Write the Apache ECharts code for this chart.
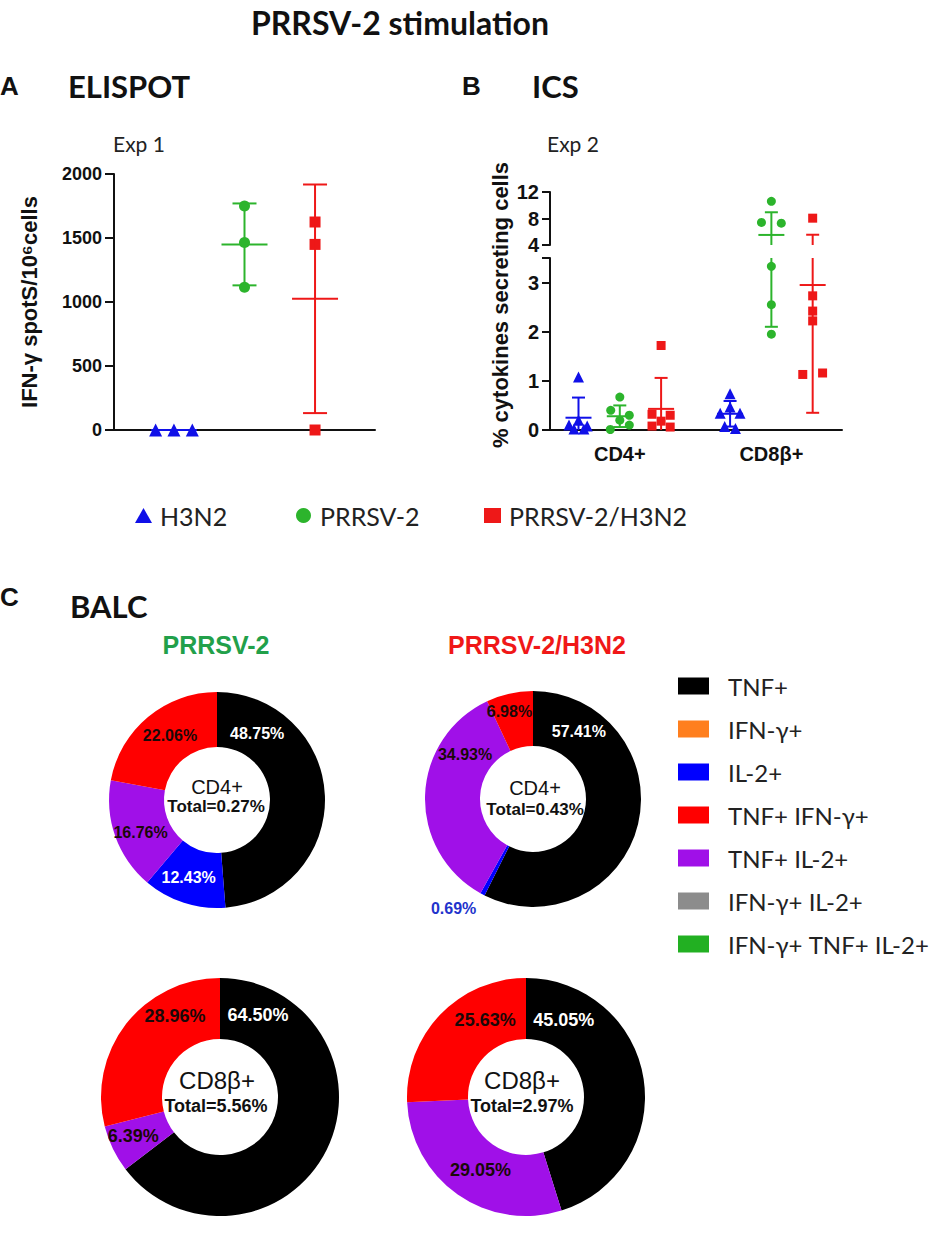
<!DOCTYPE html>
<html>
<head>
<meta charset="utf-8">
<script src="https://cdn.jsdelivr.net/npm/echarts@6.0.0/dist/echarts.min.js"></script>
<style>html,body{margin:0;padding:0;background:#fff;}</style>
</head>
<body>
<div id="main" style="width:945px;height:1239px;"></div>
<script type="text/javascript">
// ---- values ----
var groups = ['H3N2', 'PRRSV-2', 'PRRSV-2/H3N2'];

// A: ELISPOT, IFN-γ spots / 10^6 cells, Exp 1
var spotsH3N2 = [0, 0, 0];
var spotsPrrsv = [1750, 1465, 1115];
var spotsCoinf = [1625, 1450, 0];
var spotsMean = [0, 1450, 1025];
var spotsSd = [0, 320, 893];

// B: ICS, % cytokine secreting cells, Exp 2 (per subset)
var subsets = ['CD4+', 'CD8β+'];
var icsH3N2 = [[1.08, 0.20, 0.10, 0.08, 0.02, 0.02], [0.74, 0.47, 0.34, 0.34, 0.07, 0.03]];
var icsPrrsv = [[0.67, 0.40, 0.30, 0.20, 0.10, 0.01], [10.6, 7.4, 7.3, 3.33, 2.55, 1.95]];
var icsCoinf = [[1.72, 0.32, 0.30, 0.18, 0.08, 0.06], [8.05, 2.73, 2.42, 2.22, 1.13, 1.16]];
var icsMean = [[0.25, 0.33], [0.28, 5.52], [0.43, 2.95]];
var icsSd = [[0.41, 0.26], [0.22, 3.42], [0.63, 2.60]];
var yTicksLow = [0, 1, 2, 3];
var yTicksHigh = [4, 8, 12];

// C: BALC cytokine profiles (% of responding cells)
var cytokines = ['TNF+', 'IFN-γ+', 'IL-2+', 'TNF+ IFN-γ+', 'TNF+ IL-2+', 'IFN-γ+ IL-2+', 'IFN-γ+ TNF+ IL-2+'];
var cd4Prrsv = [48.75, 0, 12.43, 22.06, 16.76, 0, 0];
var cd4Coinf = [57.41, 0, 0.69, 6.98, 34.93, 0, 0];
var cd8Prrsv = [64.50, 0, 0, 28.96, 6.39, 0, 0];
var cd8Coinf = [45.05, 0, 0, 25.63, 29.05, 0, 0];
var totals = ['0.27', '0.43', '5.56', '2.97'];

// ---- layout / style ----
var AX = '"Liberation Sans", Arial, sans-serif';
var CAL = 'Lato, "Open Sans", sans-serif';
var INK = '#111';
var colors = ['#1010e8', '#2cb42c', '#ee1818'];
var symbols = ['triangle', 'circle', 'rect'];
var pieColors = ['#000000', '#ff7f1e', '#0000ff', '#ff0000', '#a010e8', '#8c8c8c', '#22b022'];
var sliceOrder = [0, 1, 2, 4, 5, 6, 3]; // clockwise from 12 o'clock
var jitterA = [[-0.26, 0, 0.26], [0, 0, 0], [0, 0, 0]];
var jitterB = [
    [[0, 0, -0.23, 0.21, -0.11, 0.13], [0, 0, -0.24, 0.24, -0.13, 0.13]],
    [[0, -0.22, 0.23, 0, 0.23, -0.23], [0, -0.24, 0.24, 0, 0, 0]],
    [[0, -0.22, 0.22, 0, -0.22, 0.22], [0, 0, 0, 0, -0.24, 0.24]]
];
var centersB = [2, 5.67];
var BREAK_LOW = 3.5, BREAK_HIGH = 4;

var myChart = echarts.init(document.getElementById('main'), null, { renderer: 'svg' });

function errorBar(halfMean, halfCap, color, width) {
    return function (params, api) {
        var x = api.value(0), m = api.value(1), s = api.value(2);
        var top = api.coord([x, m + s]);
        var bot = api.coord([x, m - s]);
        var mid = api.coord([x, m]);
        function seg(x1, y1, x2, y2) {
            return { type: 'line', shape: { x1: x1, y1: y1, x2: x2, y2: y2 }, style: { stroke: color, lineWidth: width } };
        }
        return {
            type: 'group', children: [
                seg(top[0], top[1], bot[0], bot[1]),
                seg(top[0] - halfCap, top[1], top[0] + halfCap, top[1]),
                seg(bot[0] - halfCap, bot[1], bot[0] + halfCap, bot[1]),
                seg(mid[0] - halfMean, mid[1], mid[0] + halfMean, mid[1])
            ]
        };
    };
}

var series = [];

// panel A
[spotsH3N2, spotsPrrsv, spotsCoinf].forEach(function (vals, g) {
    series.push({
        name: groups[g], type: 'scatter', xAxisIndex: 0, yAxisIndex: 0, clip: false, z: 3,
        symbol: symbols[g], symbolSize: g === 0 ? 13 : 11,
        itemStyle: { color: colors[g], opacity: 1 },
        data: vals.map(function (v, k) { return [g + 1 + jitterA[g][k], v]; })
    });
    series.push({
        type: 'custom', xAxisIndex: 0, yAxisIndex: 0, z: 4,
        renderItem: errorBar(23, 12, colors[g], 2),
        data: [[g + 1, spotsMean[g], spotsSd[g]]]
    });
});

// panel B (broken axis: lower grid 0-3.5, upper grid 4-12)
[icsH3N2, icsPrrsv, icsCoinf].forEach(function (bySubset, g) {
    var low = [], high = [];
    bySubset.forEach(function (vals, s) {
        vals.forEach(function (v, k) {
            var pt = [centersB[s] + (g - 1) + jitterB[g][s][k], v];
            if (v <= BREAK_LOW) low.push(pt);
            if (v >= BREAK_HIGH) high.push(pt);
        });
    });
    var bars = subsets.map(function (n, s) { return [centersB[s] + (g - 1), icsMean[g][s], icsSd[g][s]]; });
    [[1, low], [2, high]].forEach(function (part) {
        series.push({
            name: groups[g], type: 'scatter', xAxisIndex: part[0], yAxisIndex: part[0], clip: false, z: 3,
            symbol: symbols[g], symbolSize: g === 0 ? 11 : 9,
            itemStyle: { color: colors[g], opacity: 1 },
            data: part[1]
        });
        series.push({
            type: 'custom', xAxisIndex: part[0], yAxisIndex: part[0], clip: true, z: 4,
            renderItem: errorBar(13, 6.5, colors[g], 2),
            data: bars
        });
    });
});

// panel C donuts
function donut(values, center, radius, spots, fontSize, labelColors) {
    var names = sliceOrder.map(function (i) { return cytokines[i]; });
    return {
        type: 'pie', center: center, radius: radius, startAngle: 90, clockwise: true,
        avoidLabelOverlap: false, silent: true, z: 2,
        label: {
            show: true, position: 'inside', fontFamily: AX, fontSize: fontSize, fontWeight: 'bold',
            formatter: function (p) { return p.value.toFixed(2) + '%'; }
        },
        labelLine: { show: false },
        labelLayout: function (p) {
            var sp = spots[names[p.dataIndex]];
            if (!sp) return;
            var a = sp[0] * Math.PI / 180;
            return { x: center[0] + sp[1] * Math.sin(a), y: center[1] - sp[1] * Math.cos(a), align: 'center', verticalAlign: 'middle' };
        },
        data: sliceOrder.map(function (i) {
            return {
                name: cytokines[i], value: values[i],
                itemStyle: { color: pieColors[i] },
                label: { show: values[i] > 0, color: labelColors[cytokines[i]] || '#1a0808' }
            };
        })
    };
}
var rTop = [53, 108], rBot = [58, 119];
var cTop = [[217, 800], [533, 799]], cBot = [[220, 1097], [526, 1097]];
series.push(donut(cd4Prrsv, cTop[0], rTop,
    { 'TNF+': [31, 78], 'TNF+ IFN-γ+': [324, 80], 'TNF+ IL-2+': [247, 83], 'IL-2+': [200, 83] }, 16,
    { 'TNF+': '#fff', 'IL-2+': '#fff' }));
series.push(donut(cd4Coinf, cTop[1], rTop,
    { 'TNF+': [34, 82], 'TNF+ IFN-γ+': [345, 91], 'TNF+ IL-2+': [303, 81], 'IL-2+': [216, 135] }, 16,
    { 'TNF+': '#fff', 'IL-2+': '#2233cc' }));
series.push(donut(cd8Prrsv, cBot[0], rBot,
    { 'TNF+': [25, 90], 'TNF+ IFN-γ+': [331, 93], 'TNF+ IL-2+': [246, 95] }, 18,
    { 'TNF+': '#fff' }));
series.push(donut(cd8Coinf, cBot[1], rBot,
    { 'TNF+': [26, 86], 'TNF+ IFN-γ+': [332, 87], 'TNF+ IL-2+': [212, 86] }, 18,
    { 'TNF+': '#fff' }));

var axisLineStyle = { color: INK, width: 2 };
var tickLabel = { color: INK, fontFamily: AX, fontWeight: 'bold' };

function txt(text, x, y, size, weight, family, color, align, extra) {
    var el = {
        type: 'text', x: x, y: y, z: 50, silent: true,
        style: {
            text: text, fontSize: size, fontWeight: weight, fontFamily: family, fill: color || INK,
            align: align || 'left', verticalAlign: 'middle', textAlign: align || 'left', textVerticalAlign: 'middle'
        }
    };
    if (extra) for (var k in extra) el[k] = extra[k];
    return el;
}

var graphics = [
    txt('PRRSV-2 stimulation', 400, 22, 32, 'bold', CAL, INK, 'center'),
    txt('A', 0, 86, 26, 'bold', AX),
    txt('ELISPOT', 68, 86, 31, 'bold', CAL),
    txt('B', 462, 86, 26, 'bold', AX),
    txt('ICS', 532, 86, 31, 'bold', CAL),
    txt('Exp 1', 113, 143, 21, 'normal', CAL, '#222'),
    txt('Exp 2', 547, 143, 21, 'normal', CAL, '#222'),
    txt('% cytokines secreting cells', 500, 305, 22, 'bold', AX, INK, 'center', { rotation: Math.PI / 2 }),
    txt('C', 0, 597, 26, 'bold', AX),
    txt('BALC', 70, 606, 31, 'bold', CAL),
    txt('PRRSV-2', 216, 645, 25, 'bold', AX, '#22a04a', 'center'),
    txt('PRRSV-2/H3N2', 537, 645, 25, 'bold', AX, '#f01818', 'center'),
    txt('CD4+', 217, 787, 20, 'normal', AX, INK, 'center'),
    txt('Total=' + totals[0] + '%', 216, 806, 17, 'bold', AX, INK, 'center'),
    txt('CD4+', 535, 788, 20, 'normal', AX, INK, 'center'),
    txt('Total=' + totals[1] + '%', 535, 809, 17, 'bold', AX, INK, 'center'),
    txt('CD8β+', 217, 1080, 24, 'normal', AX, INK, 'center'),
    txt('Total=' + totals[2] + '%', 216, 1106, 18, 'bold', AX, INK, 'center'),
    txt('CD8β+', 522, 1080, 24, 'normal', AX, INK, 'center'),
    txt('Total=' + totals[3] + '%', 522, 1106, 18, 'bold', AX, INK, 'center')
];

function groupLegend(g, left) {
    return {
        left: left, top: 503, padding: 0, itemWidth: 17, itemHeight: 15, selectedMode: false,
        data: [{ name: groups[g], icon: symbols[g] }],
        textStyle: { fontSize: 25, fontFamily: CAL, color: '#222', lineHeight: 24, padding: [0, 0, 0, 3] }
    };
}

option = {
    animation: false,
    backgroundColor: '#fff',
    grid: [
        { left: 114, top: 174, width: 261, height: 256 },
        { left: 550, top: 258, width: 292, height: 172 },
        { left: 550, top: 192, width: 292, height: 53 }
    ],
    xAxis: [
        {
            gridIndex: 0, type: 'value', min: 0.15, max: 3.85,
            axisLine: { show: true, lineStyle: axisLineStyle }, axisTick: { show: false },
            axisLabel: { show: false }, splitLine: { show: false }
        },
        {
            gridIndex: 1, type: 'value', min: 0.31, max: 7.38,
            axisLine: { show: true, lineStyle: axisLineStyle }, axisTick: { show: false },
            axisLabel: {
                show: true, customValues: centersB, margin: 14, fontSize: 20, color: INK, fontFamily: AX, fontWeight: 'bold',
                formatter: function (v) { return v < 4 ? subsets[0] : subsets[1]; }
            },
            splitLine: { show: false }
        },
        {
            gridIndex: 2, type: 'value', min: 0.31, max: 7.38, show: false
        }
    ],
    yAxis: [
        {
            gridIndex: 0, type: 'value', min: 0, max: 2000, interval: 500,
            axisLine: { show: true, lineStyle: axisLineStyle },
            axisTick: { show: true, length: 9, lineStyle: axisLineStyle },
            axisLabel: Object.assign({
                fontSize: 18, margin: 12,
                formatter: function (v) { return String(v); }
            }, tickLabel),
            splitLine: { show: false },
            name: 'IFN-γ spotS/10⁶cells', nameLocation: 'middle', nameGap: 74,
            nameTextStyle: { fontSize: 22, fontWeight: 'bold', fontFamily: AX, color: INK }
        },
        {
            gridIndex: 1, type: 'value', min: 0, max: BREAK_LOW, interval: 1,
            axisLine: { show: true, lineStyle: axisLineStyle },
            axisTick: { show: true, length: 8, lineStyle: axisLineStyle },
            axisLabel: Object.assign({
                fontSize: 20, margin: 11,
                formatter: function (v) { return yTicksLow.indexOf(v) >= 0 ? String(v) : ''; }
            }, tickLabel),
            splitLine: { show: false }
        },
        {
            gridIndex: 2, type: 'value', min: BREAK_HIGH, max: 12, interval: 4,
            axisLine: { show: true, lineStyle: axisLineStyle },
            axisTick: { show: true, length: 8, lineStyle: axisLineStyle },
            axisLabel: Object.assign({
                fontSize: 20, margin: 11,
                formatter: function (v) { return yTicksHigh.indexOf(v) >= 0 ? String(v) : ''; }
            }, tickLabel),
            splitLine: { show: false }
        }
    ],
    legend: [
        groupLegend(0, 135),
        groupLegend(1, 296),
        groupLegend(2, 484),
        {
            orient: 'vertical', left: 678, top: 674, padding: 0, itemWidth: 31, itemHeight: 17, itemGap: 19,
            icon: 'rect', selectedMode: false, data: cytokines,
            textStyle: { fontSize: 24, fontFamily: CAL, color: '#222', lineHeight: 24, padding: [0, 0, 0, 14] }
        }
    ],
    graphic: graphics,
    series: series
};

myChart.setOption(option);
</script>
</body>
</html>
